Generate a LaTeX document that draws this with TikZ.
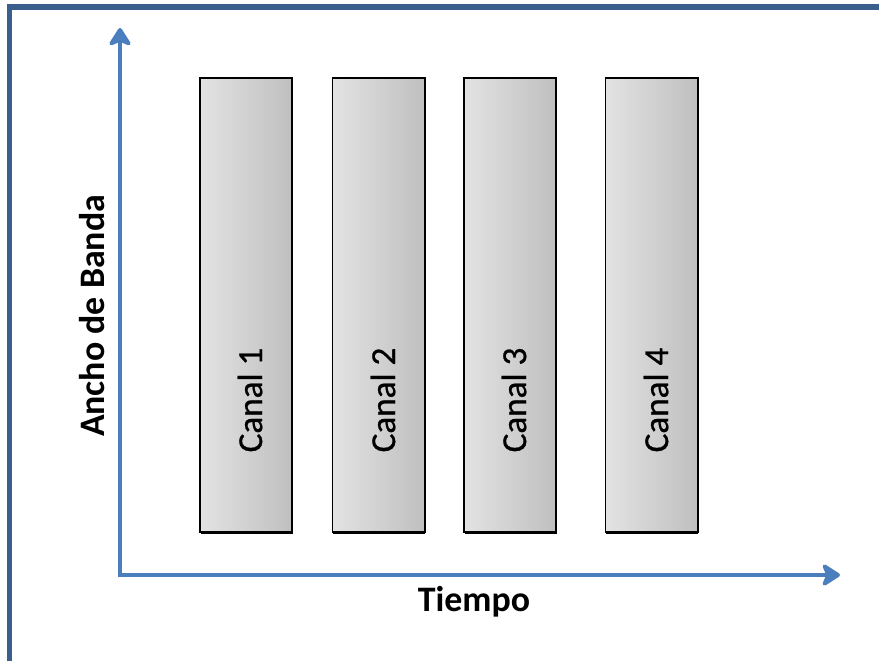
\documentclass[tikz,border=0pt]{standalone}
\usepackage{fontspec}
\setmainfont{Carlito}
\newfontfamily\canalfont[FakeBold=0.8]{Carlito}
\usepackage{tikz}
\usetikzlibrary{arrows.meta, shadows}

\definecolor{marco}{HTML}{3A5F8C}
\definecolor{azuleje}{HTML}{4A7EBD}

\tikzset{
	canal/.style={draw=black, line width=1.4pt, rectangle, minimum width=2.3cm, minimum height=11.35cm,
		left color=gray!22, right color=gray!50,
		drop shadow={shadow xshift=0.4pt, shadow yshift=-1.6pt, fill=black, opacity=1}},
	etiqueta/.style={rotate=90, font=\canalfont\fontsize{25}{30}\selectfont},
	ejes/.style={draw=azuleje, line width=3pt}
}

\begin{document}
\begin{tikzpicture}[x=0.025cm, y=-0.025cm]
	\useasboundingbox (0,0) rectangle (879,661);
	% marco exterior
	\draw[marco, line width=3.6pt] (9.5,661) -- (9.5,7) -- (879,7);

	% ejes
	\coordinate (arriba) at (120,28);
	\coordinate (origen) at (120,575);
	\coordinate (derecha) at (840,575);
	\draw[ejes, arrows={Stealth[length=15pt,width=19pt,inset=4pt,round]-Stealth[length=15pt,width=19pt,inset=4pt,round]}] (arriba) -- (origen) -- (derecha);

	\node[font=\bfseries\fontsize{25.5}{30}\selectfont, rotate=90] (ancho) at (92,316) {Ancho de Banda};
	\node[font=\bfseries\fontsize{25.5}{30}\selectfont] (tiempo) at (474,602) {Tiempo};

	% canales
	\node[canal] (canal1) at (246,305) {};
	\node[canal] (canal2) at (378.5,305) {};
	\node[canal] (canal3) at (510,305) {};
	\node[canal] (canal4) at (651.5,305) {};

	\node[etiqueta] (texto1) at (250,400) {Canal 1};
	\node[etiqueta] (texto2) at (383,400) {Canal 2};
	\node[etiqueta] (texto3) at (514,400) {Canal 3};
	\node[etiqueta] (texto4) at (656,400) {Canal 4};
\end{tikzpicture}
\end{document}
